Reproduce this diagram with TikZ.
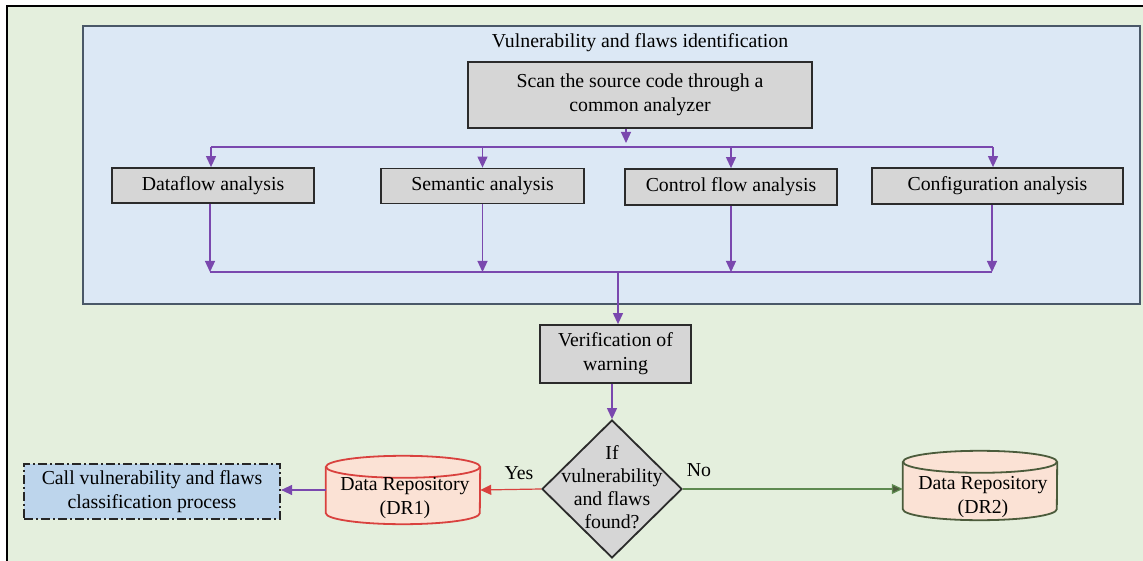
\documentclass[tikz,border=0pt]{standalone}
\usepackage{fontspec}
\setmainfont{Liberation Serif}
\usetikzlibrary{shapes.geometric,arrows.meta,calc}
\definecolor{bggreen}{HTML}{E4EFDD}
\definecolor{bluefill}{HTML}{DCE8F5}
\definecolor{blueborder}{HTML}{4A5868}
\definecolor{boxgray}{HTML}{D6D6D6}
\definecolor{boxborder}{HTML}{2B2B2B}
\definecolor{purp}{HTML}{7A48AE}
\definecolor{callfill}{HTML}{BDD5EC}
\definecolor{peach}{HTML}{FBE2D5}
\definecolor{redb}{HTML}{D9413E}
\definecolor{greenb}{HTML}{4B5B3B}
\definecolor{greenl}{HTML}{5E8A50}
\begin{document}
\begin{tikzpicture}[x=1pt,y=-1pt,
  every node/.style={font=\fontsize{19.8}{24}\selectfont},
  gbox/.style={draw=boxborder, fill=boxgray, line width=1.8pt, inner sep=0pt, align=center},
  conn/.style={draw=purp, line width=1.2pt, -{Triangle[length=11pt,width=10pt]}},
  pline/.style={draw=purp, line width=1.2pt},
  cylnode/.style={inner sep=0pt, minimum width=154pt, minimum height=68pt},
  lbl/.style={inner sep=1pt}
]
\useasboundingbox (0,0) rectangle (1143,561);
% outer frame
\fill[bggreen] (7,6) rectangle (1143,561);
\draw[black, line width=2.6pt] (7,561) -- (7,6) -- (1143,6);
% blue region
\node[draw=blueborder, fill=bluefill, line width=1.8pt, inner sep=0pt,
      minimum width=1057pt, minimum height=278pt] (blue) at (611.5,165) {};
\node (title) at (640,43) {Vulnerability and flaws identification};

\node[gbox, minimum width=344pt, minimum height=66pt] (scan) at (640,95)
  {Scan the source code through a\\common analyzer};
\node[gbox, minimum width=202pt, minimum height=35pt] (df) at (213,185.5) {Dataflow analysis};
\node[gbox, minimum width=203pt, minimum height=35pt] (sem) at (482.5,186) {Semantic analysis};
\node[gbox, minimum width=212pt, minimum height=36pt] (ctl) at (731,187) {Control flow analysis};
\node[gbox, minimum width=251pt, minimum height=36pt] (cfg) at (997.5,186) {Configuration analysis};

\node[gbox, minimum width=151pt, minimum height=58pt] (ver) at (615.5,354) {Verification of\\warning};

\node[diamond, draw=boxborder, fill=boxgray, line width=1.8pt, inner sep=0pt,
      minimum width=140pt, minimum height=138pt] (D) at (612,489) {};
\node[align=center, font=\fontsize{19.8}{23}\selectfont] (dtxt) at (612,487)
  {If\\vulnerability\\and flaws\\found?};

% cylinders
\node[cylnode] (DR1) at (403,490) {};
\fill[peach] ($(DR1.north west)+(0,11)$) -- ($(DR1.south west)+(0,-11)$)
   arc[start angle=180, end angle=360, x radius=77pt, y radius=11pt]
   -- ($(DR1.north east)+(0,11)$)
   arc[start angle=0, end angle=180, x radius=77pt, y radius=11pt] -- cycle;
\draw[redb, line width=1.8pt] ($(DR1.north west)+(0,11)$) -- ($(DR1.south west)+(0,-11)$)
   arc[start angle=180, end angle=360, x radius=77pt, y radius=11pt]
   -- ($(DR1.north east)+(0,11)$);
\draw[redb, line width=1.8pt] ($(DR1.north)+(0,11)$) ellipse[x radius=77pt, y radius=11pt];
\node[align=center] (dr1t) at (405,498) {Data Repository\\(DR1)};

\node[cylnode, minimum height=69pt] (DR2) at (980,485.5) {};
\fill[peach] ($(DR2.north west)+(0,11)$) -- ($(DR2.south west)+(0,-11)$)
   arc[start angle=180, end angle=360, x radius=77pt, y radius=11pt]
   -- ($(DR2.north east)+(0,11)$)
   arc[start angle=0, end angle=180, x radius=77pt, y radius=11pt] -- cycle;
\draw[greenb, line width=1.8pt] ($(DR2.north west)+(0,11)$) -- ($(DR2.south west)+(0,-11)$)
   arc[start angle=180, end angle=360, x radius=77pt, y radius=11pt]
   -- ($(DR2.north east)+(0,11)$);
\draw[greenb, line width=1.8pt] ($(DR2.north)+(0,11)$) ellipse[x radius=77pt, y radius=11pt];
\node[align=center] (dr2t) at (983,497) {Data Repository\\(DR2)};

\node[draw=black!85, fill=callfill, line width=2.2pt, align=center, inner sep=0pt,
      dash pattern=on 9pt off 3pt on 2pt off 3pt,
      minimum width=256pt, minimum height=55pt] (call) at (152,491.5)
  {Call vulnerability and flaws\\classification process};

% connectors top
\coordinate (top) at (626,143);
\coordinate (hl) at (211,147);
\coordinate (hr) at (993,147);
\draw[conn] (scan.south -| top) -- (top);
\draw[pline] (hl) -- (hr);
\draw[conn] (hl) -- (df.north -| hl);
\draw[conn] (sem.north |- hl) -- (sem.north);
\draw[conn] (ctl.north |- hl) -- (ctl.north);
\draw[conn] (hr) -- (cfg.north -| hr);

% connectors bottom
\coordinate (bl) at (210,272);
\coordinate (br) at (992,272);
\coordinate (m) at (618,272);
\draw[conn] (df.south -| bl) -- (bl);
\draw[conn] (sem.south) -- (sem.south |- bl);
\draw[conn] (ctl.south) -- (ctl.south |- bl);
\draw[conn] (cfg.south -| br) -- (br);
\draw[pline] (bl) -- (br);
\draw[conn] (m) -- (ver.north -| m);
\draw[conn] (D.north |- ver.south) -- (D.north);

% decision outputs
\draw[draw=redb, line width=1.2pt, -{Triangle[length=11pt,width=10pt]}] (D.west) -- (DR1.east);
\draw[draw=greenl, line width=1.2pt, -{Triangle[length=11pt,width=10pt,fill=greenb]}] (D.east) -- (D.east -| DR2.west);
\draw[conn] (DR1.west) -- (DR1.west -| call.east);
\node[lbl] (yes) at (519,473) {Yes};
\node[lbl] (no) at (699,470) {No};
\end{tikzpicture}
\end{document}
